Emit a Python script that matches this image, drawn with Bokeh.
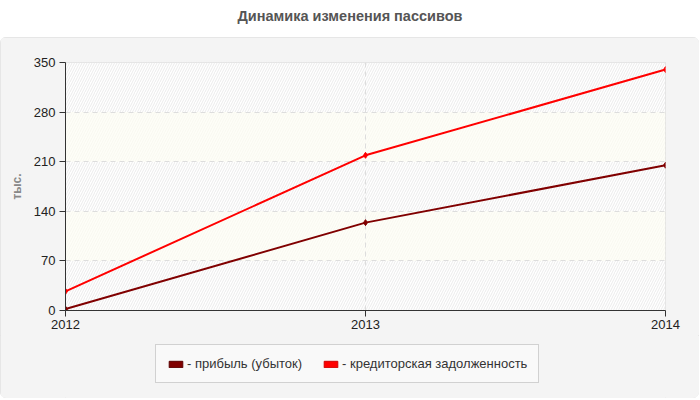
from bokeh.plotting import figure
from bokeh.models import Legend, LegendItem, FixedTicker, Range1d
from bokeh.layouts import column
from bokeh.embed import file_html
from bokeh.resources import INLINE

# ---- data ----
years = [2012, 2013, 2014]
profit = [2, 124, 205]            # прибыль (убыток)
payables = [27, 219, 340]         # кредиторская задолженность
y_ticks = [0, 70, 140, 210, 280, 350]
series_names = ["- прибыль (убыток)", "- кредиторская задолженность"]
title_text = "Динамика изменения пассивов"
y_label = "тыс."

FONT = "Liberation Sans"
PANEL = "#f4f4f4"
colors = ["#800000", "#ff0000"]
edge_colors = ["#5a0000", "#d00000"]

# ---- title strip ----
t = figure(width=699, height=37, toolbar_location=None, output_backend="svg",
           min_border=0, min_border_top=5, x_axis_location=None, y_axis_location=None,
           x_range=Range1d(0, 1), y_range=Range1d(0, 1))
t.grid.visible = False
t.outline_line_color = None
t.title.text = title_text
t.title.align = "center"
t.title.text_font = FONT
t.title.text_font_size = "14.5px"
t.title.text_font_style = "bold"
t.title.text_color = "#555555"

# ---- main chart ----
p = figure(width=699, height=298,
           toolbar_location=None, output_backend="svg",
           x_range=Range1d(years[0], years[-1]), y_range=Range1d(y_ticks[0], y_ticks[-1]),
           min_border_left=65, min_border_right=34, min_border_top=25, min_border_bottom=25)
p.border_fill_color = PANEL
p.background_fill_color = "#ffffff"
p.outline_line_color = "#dddddd"

# alternating bands from tick values
hatched_b = y_ticks[0:-1:2]
hatched_t = y_ticks[1::2]
plain_b = y_ticks[1:-1:2]
plain_t = y_ticks[2::2]
p.quad(left=[years[0]] * len(hatched_b), right=[years[-1]] * len(hatched_b),
       bottom=hatched_b, top=hatched_t, fill_color="#ffffff", line_color=None,
       hatch_pattern="/", hatch_color="#ebebeb", hatch_scale=5, hatch_weight=1, level="image")
p.quad(left=[years[0]] * len(plain_b), right=[years[-1]] * len(plain_b),
       bottom=plain_b, top=plain_t, fill_color="#fefef8", line_color=None,
       hatch_pattern="/", hatch_color="#f8f8f0", hatch_scale=5, hatch_weight=1, level="image")

for vals, c in zip([profit, payables], colors):
    p.line(years, vals, line_color=c, line_width=2)
    p.scatter(years, vals, marker="diamond", size=6, fill_color=c, line_color=c)

# grid
p.ygrid.ticker = FixedTicker(ticks=y_ticks)
p.xgrid.ticker = FixedTicker(ticks=years)
p.grid.grid_line_color = "#dddddd"
p.grid.grid_line_dash = "5 4"

# axes
p.yaxis.ticker = FixedTicker(ticks=y_ticks)
p.xaxis.ticker = FixedTicker(ticks=years)
for ax in (p.xaxis, p.yaxis):
    ax.axis_line_color = "#333333"
    ax.major_tick_line_color = "#333333"
    ax.major_tick_out = 6
    ax.major_tick_in = 0
    ax.minor_tick_line_color = None
    ax.major_label_text_font = FONT
    ax.major_label_text_font_size = "13px"
    ax.major_label_text_color = "#222222"
p.yaxis.major_label_standoff = 4
p.xaxis.major_label_standoff = 3
p.yaxis.axis_label = y_label
p.yaxis.axis_label_text_font = FONT
p.yaxis.axis_label_text_font_size = "12px"
p.yaxis.axis_label_text_font_style = "bold"
p.yaxis.axis_label_text_color = "#888888"
p.yaxis.axis_label_standoff = 7

# ---- legend strip ----
lg = figure(width=699, height=63, toolbar_location=None, output_backend="svg",
            min_border=0, x_axis_location=None, y_axis_location=None,
            x_range=Range1d(0, 1), y_range=Range1d(0, 1))
lg.grid.visible = False
lg.outline_line_color = None
lg.border_fill_color = PANEL
lg.background_fill_color = PANEL

items = []
for name, c, ec in zip(series_names, colors, edge_colors):
    r = lg.rect(x=[float("nan")], y=[float("nan")], width=1, height=1,
                fill_color=c, line_color=ec, line_width=1)
    items.append(LegendItem(label=name, renderers=[r]))

legend = Legend(items=items, orientation="horizontal", location=(90, 15))
legend.label_text_font = FONT
legend.label_text_font_size = "13px"
legend.label_text_color = "#333333"
legend.glyph_width = 17
legend.glyph_height = 8
legend.label_standoff = 3
legend.spacing = 20
legend.padding = 11
legend.margin = 0
legend.background_fill_color = "#f9f9f9"
legend.background_fill_alpha = 1
legend.border_line_color = "#aaaaaa"
legend.border_line_width = 1
lg.add_layout(legend, "center")

panel = column(p, lg, spacing=0,
               styles={"background-color": PANEL, "border-radius": "6px",
                       "overflow": "hidden", "outline": "1px solid #e2e2e2",
                       "outline-offset": "-1px"})
layout = column(t, panel, spacing=0)
open("out.html", "w").write(file_html(layout, INLINE))
